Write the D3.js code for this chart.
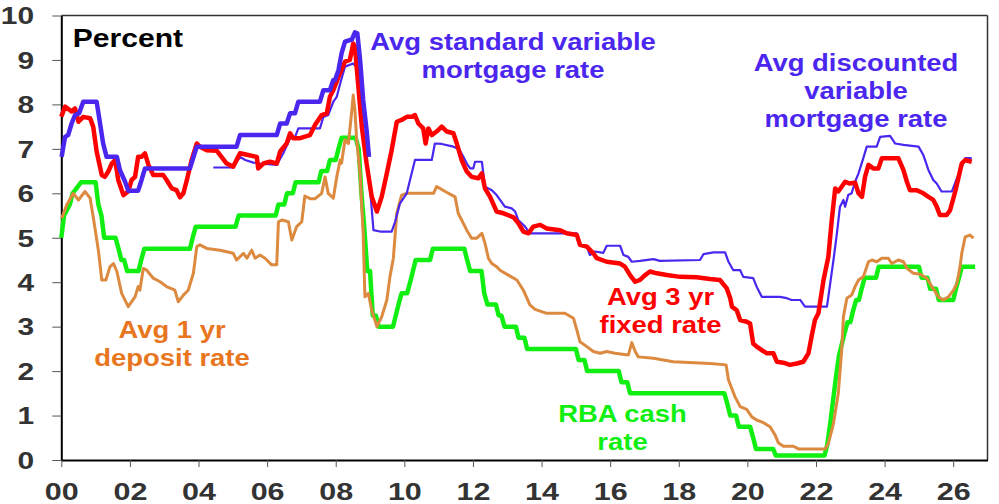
<!DOCTYPE html>
<html>
<head>
<meta charset="utf-8">
<script src="https://cdn.jsdelivr.net/npm/d3@7"></script>
<style>
  body { margin: 0; background: #fff; }
  svg { display: block; }
  text { font-family: "Liberation Sans", Arial, sans-serif; font-weight: bold; }
</style>
</head>
<body>
<svg id="chart" width="999" height="504"></svg>
<script>
// years are offsets from 2000
var xTicks = [0, 2, 4, 6, 8, 10, 12, 14, 16, 18, 20, 22, 24, 26];
var xTickLabels = ["00", "02", "04", "06", "08", "10", "12", "14", "16", "18", "20", "22", "24", "26"];
var yTicks = [0, 1, 2, 3, 4, 5, 6, 7, 8, 9, 10];

var cashRate = [[0,5.0],[0.08,5.5],[0.25,5.75],[0.33,6.0],[0.58,6.25],[1.0,6.25],[1.08,5.75],[1.17,5.5],[1.25,5.0],[1.58,5.0],[1.67,4.75],[1.75,4.5],[1.83,4.5],[1.92,4.25],[2.25,4.25],[2.33,4.5],[2.42,4.75],[3.75,4.75],[3.83,5.0],[3.92,5.25],[5.08,5.25],[5.17,5.5],[6.25,5.5],[6.33,5.75],[6.5,5.75],[6.58,6.0],[6.75,6.0],[6.83,6.25],[7.5,6.25],[7.58,6.5],[7.75,6.5],[7.83,6.75],[8.0,6.75],[8.08,7.0],[8.17,7.25],[8.58,7.25],[8.67,7.0],[8.75,6.0],[8.83,5.25],[8.92,4.25],[9.0,4.25],[9.08,3.25],[9.17,3.25],[9.25,3.0],[9.67,3.0],[9.75,3.25],[9.83,3.5],[9.92,3.75],[10.08,3.75],[10.17,4.0],[10.25,4.25],[10.33,4.5],[10.75,4.5],[10.83,4.75],[11.75,4.75],[11.83,4.5],[11.92,4.25],[12.25,4.25],[12.33,3.75],[12.42,3.5],[12.67,3.5],[12.75,3.25],[12.83,3.25],[12.92,3.0],[13.25,3.0],[13.33,2.75],[13.5,2.75],[13.58,2.5],[15.0,2.5],[15.08,2.25],[15.25,2.25],[15.33,2.0],[16.25,2.0],[16.33,1.75],[16.5,1.75],[16.58,1.5],[19.33,1.5],[19.42,1.25],[19.5,1.0],[19.67,1.0],[19.75,0.75],[20.08,0.75],[20.17,0.5],[20.25,0.25],[20.75,0.25],[20.83,0.1],[22.25,0.1],[22.33,0.35],[22.42,0.85],[22.5,1.35],[22.58,1.85],[22.67,2.35],[22.75,2.6],[22.83,2.85],[22.92,3.1],[23.0,3.1],[23.08,3.35],[23.17,3.6],[23.25,3.6],[23.33,3.85],[23.42,4.1],[23.75,4.1],[23.83,4.35],[25.0,4.35],[25.08,4.1],[25.25,4.1],[25.33,3.85],[25.5,3.85],[25.58,3.6],[26.0,3.6],[26.08,3.85],[26.17,4.1],[26.25,4.35],[26.64,4.35]];

var depositRate = [[0.01,5.44],[0.16,5.74],[0.35,6.0],[0.5,5.85],[0.69,6.04],[0.84,5.89],[0.93,5.47],[1.08,4.72],[1.18,4.05],[1.3,4.05],[1.42,4.35],[1.52,4.42],[1.62,4.24],[1.76,3.75],[1.95,3.45],[2.15,3.67],[2.24,3.9],[2.29,3.82],[2.39,4.31],[2.49,4.27],[2.68,4.09],[2.88,4.01],[3.07,3.9],[3.31,3.82],[3.41,3.56],[3.56,3.71],[3.7,3.82],[3.85,4.2],[3.95,4.8],[4.04,4.84],[4.24,4.76],[4.63,4.72],[5.01,4.65],[5.11,4.5],[5.31,4.65],[5.41,4.54],[5.55,4.72],[5.65,4.54],[5.79,4.61],[5.94,4.54],[6.13,4.39],[6.28,4.39],[6.33,5.36],[6.43,5.4],[6.62,5.36],[6.72,4.95],[6.86,5.25],[7.01,5.36],[7.1,5.94],[7.25,5.88],[7.4,5.88],[7.59,6.0],[7.69,6.37],[7.78,6.0],[7.93,5.89],[8.03,6.37],[8.13,6.75],[8.17,6.68],[8.27,7.2],[8.37,7.12],[8.47,7.87],[8.51,8.21],[8.56,7.87],[8.61,7.2],[8.71,6.45],[8.8,5.1],[8.85,3.67],[8.95,3.75],[9.05,3.37],[9.2,3.0],[9.34,3.22],[9.49,3.6],[9.58,4.12],[9.68,4.54],[9.78,5.55],[9.92,5.96],[10.07,6.0],[10.85,6.0],[10.94,6.15],[11.04,6.11],[11.19,6.04],[11.48,5.92],[11.57,5.55],[11.82,5.17],[11.96,4.99],[12.11,4.99],[12.26,5.1],[12.35,4.88],[12.45,4.54],[12.55,4.42],[12.69,4.35],[12.79,4.27],[13.03,4.16],[13.28,4.05],[13.47,3.82],[13.66,3.49],[13.81,3.39],[14.15,3.3],[14.68,3.3],[14.93,3.19],[15.03,2.92],[15.12,2.66],[15.32,2.55],[15.51,2.44],[15.71,2.4],[15.9,2.44],[16.14,2.4],[16.53,2.36],[16.63,2.64],[16.73,2.44],[16.82,2.32],[17.26,2.29],[17.84,2.21],[18.91,2.17],[19.38,2.14],[19.45,1.8],[19.64,1.42],[19.79,1.2],[19.98,1.14],[20.13,0.97],[20.27,0.9],[20.47,0.84],[20.66,0.75],[20.81,0.56],[20.9,0.39],[21.05,0.31],[21.34,0.31],[21.49,0.25],[22.27,0.25],[22.36,0.37],[22.51,0.82],[22.65,1.5],[22.75,2.47],[22.8,3.22],[22.9,3.64],[23.04,3.71],[23.14,3.9],[23.24,4.05],[23.38,4.12],[23.53,4.46],[23.63,4.5],[23.77,4.46],[23.92,4.54],[24.11,4.54],[24.21,4.42],[24.4,4.5],[24.55,4.46],[24.65,4.31],[24.84,4.2],[25.04,4.18],[25.23,4.09],[25.38,3.9],[25.57,3.67],[25.71,3.6],[25.86,3.67],[26.01,3.82],[26.11,3.98],[26.2,4.35],[26.25,4.65],[26.35,5.02],[26.49,5.06],[26.59,4.99]];

var discountedVariable = [[4.43,6.58],[5.01,6.58],[5.21,6.82],[5.36,6.75],[5.6,6.69],[5.79,6.67],[6.28,6.64],[6.47,6.9],[6.67,7.24],[6.81,7.26],[6.91,7.46],[7.54,7.46],[7.64,7.72],[7.78,7.76],[7.93,8.06],[8.03,8.17],[8.13,8.47],[8.27,8.85],[8.51,8.92],[8.59,8.85],[8.66,8.4],[8.76,7.65],[8.85,7.05],[8.95,6.45],[9.02,5.92],[9.1,5.17],[9.29,5.14],[9.63,5.14],[9.73,5.36],[9.87,5.77],[10.07,6.0],[10.31,6.75],[10.8,6.75],[10.89,7.12],[11.09,7.11],[11.43,7.05],[11.6,6.99],[11.72,6.82],[11.82,6.67],[11.92,6.56],[12.01,6.56],[12.06,6.71],[12.26,6.71],[12.35,6.15],[12.55,6.07],[12.69,5.96],[12.79,5.85],[12.93,5.7],[13.13,5.66],[13.23,5.59],[13.32,5.4],[13.52,5.25],[13.66,5.1],[15.03,5.1],[15.12,4.84],[15.32,4.8],[15.41,4.61],[15.56,4.69],[15.8,4.66],[15.9,4.82],[16.29,4.82],[16.39,4.61],[16.53,4.57],[16.63,4.46],[16.87,4.48],[17.26,4.52],[17.45,4.48],[18.62,4.5],[18.72,4.63],[19.01,4.67],[19.35,4.67],[19.45,4.46],[19.59,4.27],[19.79,4.27],[19.88,4.12],[20.17,4.09],[20.27,3.9],[20.42,3.67],[20.95,3.67],[21.15,3.64],[21.29,3.6],[21.54,3.6],[21.68,3.45],[22.32,3.45],[22.51,4.5],[22.61,5.1],[22.7,5.7],[22.8,5.85],[22.85,5.7],[22.94,5.96],[23.04,6.0],[23.14,6.26],[23.24,6.45],[23.38,6.79],[23.48,7.05],[23.77,7.05],[23.87,7.27],[24.16,7.29],[24.31,7.12],[24.55,7.09],[24.99,7.05],[25.13,6.86],[25.28,6.52],[25.42,6.3],[25.52,6.22],[25.66,6.04],[25.96,6.04],[26.11,6.34],[26.25,6.6],[26.35,6.79],[26.54,6.79]];

var fixedRate = [[0,7.72],[0.11,7.95],[0.3,7.84],[0.4,7.91],[0.5,7.61],[0.64,7.72],[0.84,7.69],[0.93,7.5],[1.03,6.94],[1.18,6.41],[1.27,6.37],[1.37,6.49],[1.47,6.67],[1.57,6.75],[1.66,6.3],[1.81,5.96],[1.95,6.04],[2.05,6.3],[2.15,6.37],[2.24,6.82],[2.34,6.82],[2.44,6.9],[2.54,6.64],[2.68,6.41],[2.97,6.41],[3.07,6.3],[3.22,6.11],[3.36,6.07],[3.46,5.91],[3.56,6.0],[3.66,6.3],[3.8,6.75],[3.95,7.12],[4.04,7.05],[4.24,6.97],[4.53,6.96],[4.63,6.86],[4.82,6.67],[5.01,6.6],[5.21,6.9],[5.45,6.86],[5.7,6.82],[5.74,6.56],[5.89,6.67],[6.08,6.71],[6.28,6.67],[6.38,6.94],[6.57,7.12],[6.67,7.35],[6.76,7.24],[6.96,7.24],[7.25,7.31],[7.4,7.54],[7.59,7.76],[7.74,7.8],[7.83,8.17],[7.93,8.32],[8.08,8.62],[8.27,8.96],[8.41,9.0],[8.47,9.22],[8.51,9.37],[8.56,9.3],[8.66,8.4],[8.76,7.5],[8.9,6.67],[9.05,5.92],[9.2,5.59],[9.34,5.92],[9.49,6.45],[9.63,6.97],[9.78,7.61],[9.92,7.65],[10.07,7.72],[10.22,7.72],[10.31,7.76],[10.41,7.57],[10.55,7.46],[10.62,7.12],[10.7,7.46],[10.8,7.31],[10.94,7.39],[11.09,7.5],[11.24,7.39],[11.43,7.35],[11.53,7.12],[11.67,6.75],[11.82,6.49],[11.96,6.37],[12.16,6.34],[12.26,6.45],[12.35,6.11],[12.5,5.92],[12.69,5.59],[12.89,5.55],[13.18,5.46],[13.32,5.33],[13.47,5.14],[13.62,5.1],[13.76,5.25],[13.96,5.29],[14.15,5.21],[14.54,5.17],[14.73,5.1],[15.03,5.06],[15.12,4.84],[15.32,4.8],[15.51,4.65],[15.61,4.54],[15.9,4.46],[16.29,4.42],[16.43,4.35],[16.58,4.16],[16.73,4.01],[16.87,4.05],[17.02,4.16],[17.16,4.24],[17.36,4.2],[17.65,4.16],[18.04,4.12],[18.52,4.11],[18.91,4.07],[19.2,4.05],[19.4,3.86],[19.5,3.64],[19.55,3.45],[19.69,3.37],[19.79,3.15],[19.98,3.11],[20.08,3.07],[20.17,2.62],[20.27,2.55],[20.42,2.47],[20.57,2.4],[20.76,2.4],[20.86,2.21],[21.05,2.19],[21.24,2.14],[21.44,2.17],[21.63,2.21],[21.78,2.4],[21.88,2.81],[21.97,3.15],[22.07,3.3],[22.22,4.05],[22.36,4.57],[22.46,5.4],[22.56,6.11],[22.65,6.04],[22.85,6.26],[22.99,6.22],[23.14,6.24],[23.24,6.0],[23.34,5.92],[23.43,6.37],[23.53,6.64],[23.67,6.56],[23.82,6.56],[23.92,6.79],[24.4,6.79],[24.55,6.52],[24.65,6.26],[24.74,6.07],[24.94,6.07],[25.13,6.0],[25.28,5.92],[25.42,5.85],[25.52,5.7],[25.61,5.51],[25.81,5.51],[25.91,5.62],[26.06,6.04],[26.25,6.67],[26.35,6.75],[26.54,6.71]];

var standardVariable = [[0.01,6.82],[0.06,7.05],[0.11,7.27],[0.2,7.31],[0.3,7.57],[0.4,7.76],[0.52,7.8],[0.64,8.06],[1.03,8.06],[1.13,7.57],[1.22,7.12],[1.32,6.82],[1.62,6.82],[1.71,6.52],[1.86,6.26],[1.95,6.06],[2.24,6.06],[2.34,6.3],[2.44,6.56],[3.75,6.56],[3.95,7.05],[5.11,7.05],[5.21,7.31],[6.28,7.31],[6.38,7.57],[6.57,7.57],[6.67,7.8],[6.81,7.8],[6.91,8.06],[7.54,8.06],[7.64,8.32],[7.83,8.32],[7.93,8.55],[7.98,8.55],[8.08,8.77],[8.17,9.15],[8.27,9.41],[8.47,9.46],[8.56,9.62],[8.63,9.6],[8.71,9.0],[8.8,8.1],[8.9,7.42],[8.97,6.82]];

var svg = d3.select("#chart");
var plotLeft = 61.3, plotRight = 987.5, plotTop = 15.5, plotBottom = 460;

var x = d3.scaleLinear().domain([0, 27]).range([plotLeft, plotRight]);
var y = d3.scaleLinear().domain([0, 10]).range([plotBottom, plotTop]);

var line = d3.line()
  .x(function(d) { return x(d[0]); })
  .y(function(d) { return y(d[1]); });

// frame: thin top and right
svg.append("line").attr("x1", plotLeft).attr("x2", plotRight).attr("y1", plotTop).attr("y2", plotTop)
  .attr("stroke", "#333").attr("stroke-width", 1.5);
svg.append("line").attr("x1", plotRight).attr("x2", plotRight).attr("y1", plotTop).attr("y2", plotBottom)
  .attr("stroke", "#333").attr("stroke-width", 1.5);

var xAxis = svg.append("g")
  .attr("transform", "translate(0," + plotBottom + ")")
  .call(d3.axisBottom(x).tickValues(xTicks).tickSize(7).tickSizeOuter(0)
    .tickFormat(function(d, i) { return xTickLabels[i]; }));

var yAxis = svg.append("g")
  .attr("transform", "translate(" + plotLeft + ",0)")
  .call(d3.axisLeft(y).tickValues(yTicks).tickSize(9).tickSizeOuter(0));

xAxis.select(".domain").attr("stroke", "#000").attr("stroke-width", 2);
yAxis.select(".domain").attr("stroke", "#000").attr("stroke-width", 2);
xAxis.selectAll(".tick line").attr("stroke", "#555").attr("stroke-width", 1);
yAxis.selectAll(".tick line").attr("stroke", "#555").attr("stroke-width", 1);

xAxis.selectAll(".tick text")
  .attr("y", 40).attr("dy", 0)
  .attr("transform", "scale(1.27,1)")
  .style("font-size", "24px").attr("fill", "#333");

yAxis.selectAll(".tick text")
  .attr("x", -(plotLeft - 34) / 1.3).attr("dy", "0.36em")
  .attr("transform", "scale(1.3,1)")
  .style("font-size", "23px").attr("fill", "#333");

// series, back to front
var series = [
  { data: cashRate, color: "#11ee11", width: 4.5 },
  { data: depositRate, color: "#dc8a40", width: 3 },
  { data: discountedVariable, color: "#4b26ee", width: 2.2 },
  { data: fixedRate, color: "#ff0000", width: 4.5 },
  { data: standardVariable, color: "#4b26ee", width: 4.5 }
];

svg.append("g").selectAll("path")
  .data(series)
  .enter().append("path")
  .attr("d", function(s) { return line(s.data); })
  .attr("fill", "none")
  .attr("stroke", function(s) { return s.color; })
  .attr("stroke-width", function(s) { return s.width; })
  .attr("stroke-linejoin", "round");

// annotations
function note(lines, cx, y0, color) {
  var t = svg.append("g");
  lines.forEach(function(s, i) {
    t.append("text")
      .attr("transform", "translate(" + cx + "," + (y0 + i * 28) + ") scale(1.12,1)")
      .attr("text-anchor", "middle")
      .style("font-size", "24.5px")
      .attr("fill", color)
      .text(s);
  });
}

svg.append("text")
  .attr("transform", "translate(72.7,46.7) scale(1.18,1)")
  .style("font-size", "25.5px")
  .attr("fill", "#000")
  .text("Percent");

note(["Avg standard variable", "mortgage rate"], 513, 50, "#4b26ee");
note(["Avg discounted", "variable", "mortgage rate"], 856, 70.7, "#4b26ee");
note(["Avg 3 yr", "fixed rate"], 660.5, 305, "#ff0000");
note(["Avg 1 yr", "deposit rate"], 172, 338.3, "#e8761e");
note(["RBA cash", "rate"], 622.5, 421.7, "#11ee11");
</script>
</body>
</html>
